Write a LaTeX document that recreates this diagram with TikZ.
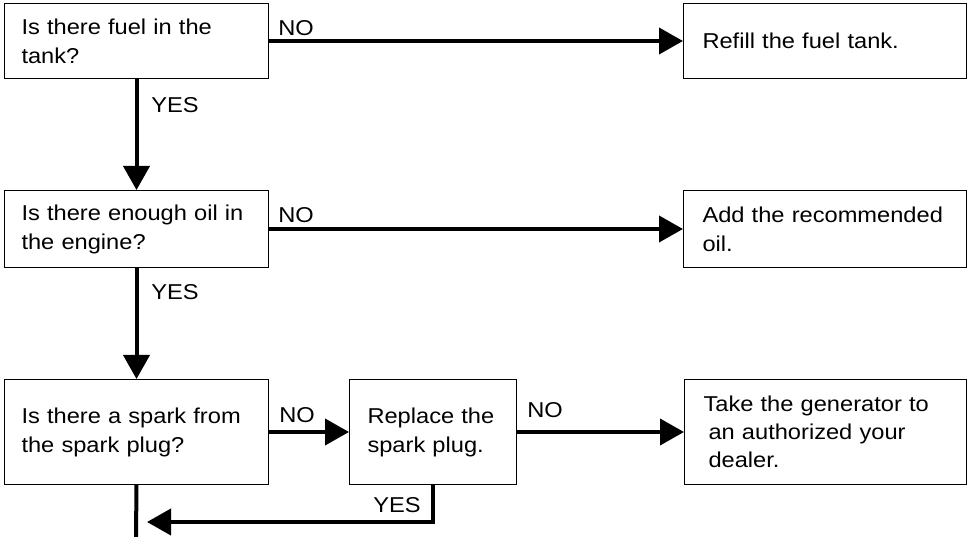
\documentclass[tikz,border=0pt]{standalone}
\usepackage{fontspec}
\setmainfont[FakeStretch=1.1]{Liberation Sans}
\usetikzlibrary{arrows.meta}
\begin{document}
\begin{tikzpicture}[x=1pt,y=-1pt,
  every node/.style={font=\fontsize{21.5}{29}\selectfont},
  box/.style={draw, line width=1pt, anchor=north west, align=left, inner ysep=0pt},
  lbox/.style={box, minimum width=264pt, inner xsep=17pt, text width=230pt},
  rbox/.style={box, minimum width=283pt, inner xsep=19pt, text width=245pt},
  conn/.style={line width=4pt, -{Triangle[length=24pt,width=26pt]}},
  plain/.style={line width=4pt},
  lab/.style={inner sep=0pt}]
\useasboundingbox (0,0) rectangle (970,537);
\node[lbox, minimum height=75pt] (b1) at (4,3) {Is there fuel in the\\tank?};
\node[rbox, minimum height=75pt] (refill) at (683,3) {Refill the fuel tank.};
\node[lbox, minimum height=77pt] (b2) at (4,190) {Is there enough oil in\\the engine?};
\node[rbox, minimum height=77pt] (oil) at (683,190) {Add the recommended\\oil.};
\node[lbox, minimum height=105pt] (b3) at (4,379) {Is there a spark from\\the spark plug?};
\node[box, minimum width=167pt, minimum height=105pt, inner xsep=18pt, text width=131pt] (rep) at (349,379) {Replace the\\spark plug.};
\node[box, minimum width=282pt, minimum height=105pt, inner xsep=19pt, text width=244pt, font=\fontsize{21.5}{28}\selectfont] (take) at (684,379) {Take the generator to\\\hspace*{5pt}an authorized your\\\hspace*{5pt}dealer.};
\coordinate (bend) at (147,522);
\coordinate (endv) at (136,537);
\draw[conn] (b1.east) -- (refill.west);
\draw[conn] (b2.east) -- (oil.west);
\draw[conn] (b3.east) -- (rep.west);
\draw[conn] (rep.east) -- (take.west);
\draw[conn] (b1.south) -- (b2.north);
\draw[conn] (b2.south) -- (b3.north);
\draw[plain] (b3.south) -- (endv);
\draw[conn] (rep.south) |- (bend);
\node[lab] (no1) at (296,28) {NO};
\node[lab] (no2) at (296,215) {NO};
\node[lab] (no3) at (297,415) {NO};
\node[lab] (no4) at (545,410) {NO};
\node[lab] (yes1) at (175,105) {YES};
\node[lab] (yes2) at (175,292) {YES};
\node[lab] (yes3) at (397,505) {YES};
\end{tikzpicture}
\end{document}
